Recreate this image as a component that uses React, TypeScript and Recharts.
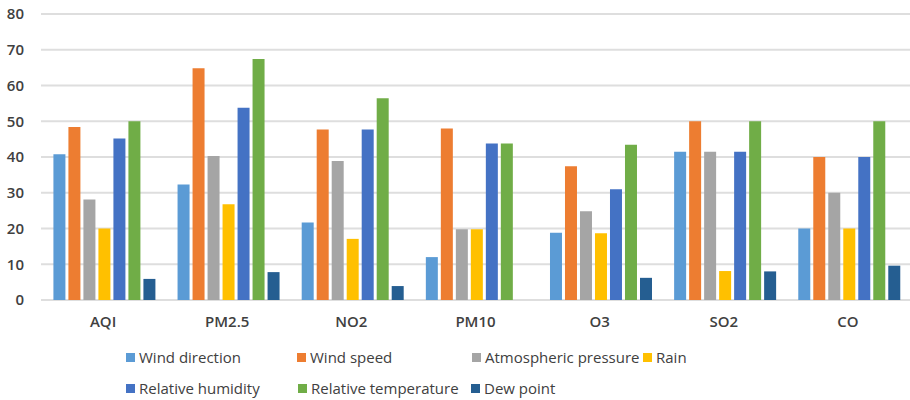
import React from "react";
import { BarChart, Bar, XAxis, YAxis, CartesianGrid, Legend } from "recharts";

const categories = ["AQI", "PM2.5", "NO2", "PM10", "O3", "SO2", "CO"];
const windDirection = [40.8, 32.3, 21.7, 12, 18.8, 41.5, 20];
const windSpeed = [48.4, 64.8, 47.7, 48, 37.4, 50, 40];
const atmosphericPressure = [28.1, 40.3, 38.9, 19.8, 24.8, 41.5, 30];
const rain = [20, 26.8, 17.1, 19.8, 18.7, 8.1, 20];
const relativeHumidity = [45.2, 53.8, 47.7, 43.8, 31, 41.5, 40];
const relativeTemperature = [50, 67.4, 56.4, 43.8, 43.4, 50, 50];
const dewPoint = [5.9, 7.8, 3.9, 0, 6.2, 8, 9.6];
const yTicks = [0, 10, 20, 30, 40, 50, 60, 70, 80];

const series = [
  { key: "Wind direction", values: windDirection, color: "#5B9BD5" },
  { key: "Wind speed", values: windSpeed, color: "#ED7D31" },
  { key: "Atmospheric pressure", values: atmosphericPressure, color: "#A5A5A5" },
  { key: "Rain", values: rain, color: "#FFC000" },
  { key: "Relative humidity", values: relativeHumidity, color: "#4472C4" },
  { key: "Relative temperature", values: relativeTemperature, color: "#70AD47" },
  { key: "Dew point", values: dewPoint, color: "#255E91" },
];

const data = categories.map((c, i) => {
  const row: Record<string, string | number> = { name: c };
  series.forEach((s) => {
    row[s.key] = s.values[i];
  });
  return row;
});

// legend layout (left x of marker, row index)
const legendLayout: Record<string, { x: number; row: number }> = {
  "Wind direction": { x: 126, row: 0 },
  "Wind speed": { x: 297, row: 0 },
  "Atmospheric pressure": { x: 472, row: 0 },
  Rain: { x: 643, row: 0 },
  "Relative humidity": { x: 126, row: 1 },
  "Relative temperature": { x: 298, row: 1 },
  "Dew point": { x: 471, row: 1 },
};

const FONT = "'Open Sans', sans-serif";
const TEXT = "#404040";

const LegendContent = () => (
  <div style={{ position: "relative", width: 910, height: 66, fontFamily: FONT }}>
    {series.map((s) => {
      const p = legendLayout[s.key];
      return (
        <div
          key={s.key}
          style={{
            position: "absolute",
            left: p.x,
            top: 27 + p.row * 31 - 11,
            height: 22,
            display: "flex",
            alignItems: "center",
            whiteSpace: "nowrap",
            fontSize: 15,
            color: TEXT,
          }}
        >
          <span
            style={{
              display: "inline-block",
              width: 9,
              height: 9,
              background: s.color,
              marginRight: 4,
            }}
          />
          {s.key}
        </div>
      );
    })}
  </div>
);

export default function App() {
  return (
    <div style={{ position: "absolute", left: 0, top: 0, width: 910, height: 400, background: "#fff" }}>
      <BarChart
        width={910}
        height={400}
        data={data}
        margin={{ top: 14, right: 0, bottom: 4, left: 0 }}
        barCategoryGap="10%"
        barGap={3}
      >
        <CartesianGrid vertical={false} stroke="#DEDEDE" strokeWidth={2} />
        <XAxis
          dataKey="name"
          axisLine={false}
          tickLine={false}
          height={30}
          tickMargin={10}
          tick={{ fontSize: 15, fill: TEXT, fontFamily: FONT, fontWeight: 600 }}
        />
        <YAxis
          domain={[0, 80]}
          ticks={yTicks}
          axisLine={false}
          tickLine={false}
          width={41}
          tickMargin={11}
          tick={{ fontSize: 15, fill: TEXT, fontFamily: FONT, fontWeight: 600 }}
        />
        <Legend verticalAlign="bottom" height={66} content={<LegendContent />} />
        {series.map((s) => (
          <Bar key={s.key} dataKey={s.key} fill={s.color} isAnimationActive={false} />
        ))}
      </BarChart>
    </div>
  );
}
